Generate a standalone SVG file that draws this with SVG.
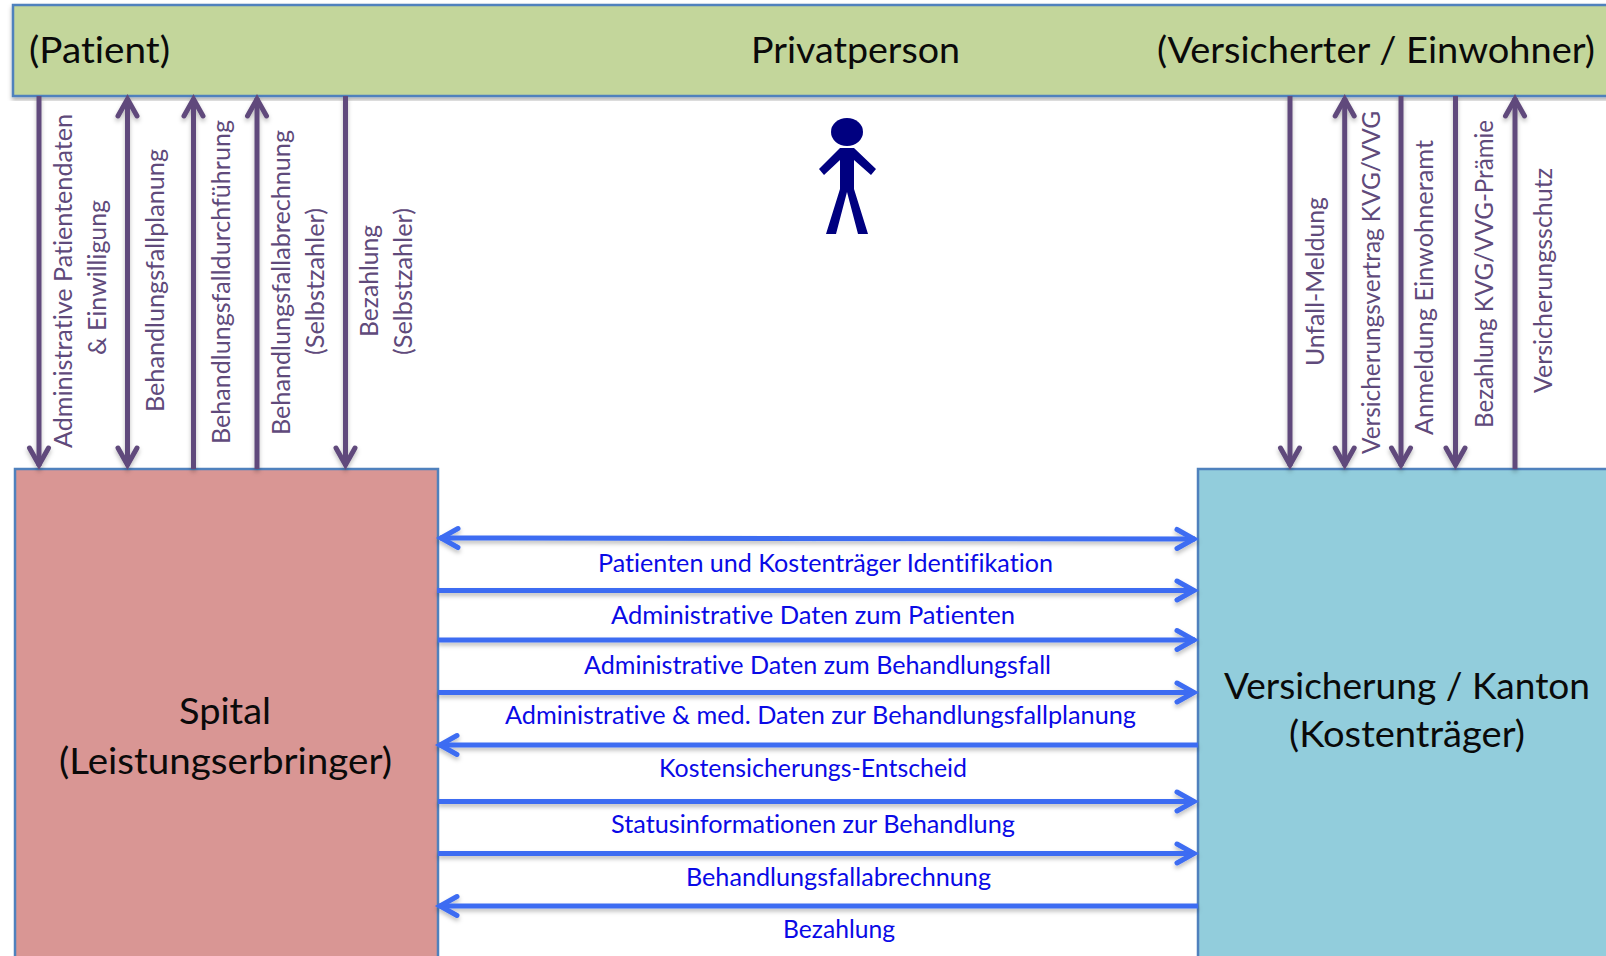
<svg xmlns="http://www.w3.org/2000/svg" width="1606" height="956" viewBox="0 0 1606 956">
<style>
text{font-family:"Lato","Carlito","Liberation Sans",sans-serif;font-variant-ligatures:none}
.big{font-size:37px;fill:#0a0a0a}
.v{font-size:25.500px;fill:#604a7b}
.h{font-size:25.500px;fill:#0a0ae6}
.box{stroke:#4f81bd;stroke-width:2.500}
.p{stroke:#604a7b;stroke-width:5;fill:none}
.b{stroke:#3d6cf2;stroke-width:5;fill:none}
.up{marker-end:url(#ap)}
.both{marker-start:url(#ap);marker-end:url(#ap)}
.bend{marker-end:url(#ab)}
.fig{fill:#000080}
</style>
<defs>
<filter id="sh" x="-5%" y="-5%" width="110%" height="110%" filterUnits="objectBoundingBox" primitiveUnits="userSpaceOnUse">
<feDropShadow dx="0" dy="3" stdDeviation="2" flood-color="#000" flood-opacity="0.3"/>
</filter>
<filter id="sl" x="0" y="-20" width="1606" height="1000" filterUnits="userSpaceOnUse">
<feDropShadow dx="0" dy="3" stdDeviation="2" flood-color="#000" flood-opacity="0.25"/>
</filter>
<marker id="ap" markerUnits="userSpaceOnUse" markerWidth="30" markerHeight="30" refX="22" refY="12" orient="auto-start-reverse" viewBox="0 0 30 24">
<path d="M4 2.500L21 12L4 21.500" fill="none" stroke="#604a7b" stroke-width="5" stroke-linecap="round" stroke-linejoin="miter"/>
</marker>
<marker id="ab" markerUnits="userSpaceOnUse" markerWidth="30" markerHeight="30" refX="22" refY="12" orient="auto-start-reverse" viewBox="0 0 30 24">
<path d="M4 2.500L21 12L4 21.500" fill="none" stroke="#3d6cf2" stroke-width="5" stroke-linecap="round" stroke-linejoin="miter"/>
</marker>
</defs>
<rect width="1606" height="956" fill="#fff"/>

<g id="privatperson">
<rect class="box" x="13" y="5" width="1600" height="91" fill="#c3d69b" filter="url(#sh)"/>
<text class="big" x="29" y="63" textLength="141" lengthAdjust="spacingAndGlyphs">(Patient)</text>
<text class="big" x="751" y="63" textLength="209" lengthAdjust="spacingAndGlyphs">Privatperson</text>
<text class="big" x="1157" y="63" textLength="438" lengthAdjust="spacingAndGlyphs">(Versicherter / Einwohner)</text>
</g>

<g id="figur">
<ellipse class="fig" cx="847" cy="132" rx="16" ry="14"/>
<path class="fig" d="M840 148H854L876 169L871 175L854 160V189L868 234H858L847 192L836 234H826L840 189V160L824 175L819 169Z"/>
</g>

<g id="spital">
<rect class="box" x="15" y="469" width="423" height="495" fill="#d99694"/>
<text class="big" x="179" y="724" textLength="92" lengthAdjust="spacingAndGlyphs">Spital</text>
<text class="big" x="59" y="774" textLength="333" lengthAdjust="spacingAndGlyphs">(Leistungserbringer)</text>
</g>

<g id="versicherung">
<rect class="box" x="1198" y="469" width="416" height="495" fill="#92cddc"/>
<text class="big" x="1224" y="699" textLength="366" lengthAdjust="spacingAndGlyphs">Versicherung / Kanton</text>
<text class="big" x="1289" y="747" textLength="236" lengthAdjust="spacingAndGlyphs">(Kostenträger)</text>
</g>

<g id="connectors" filter="url(#sl)">
<path class="p up" d="M39 96V466"/>
<path class="p both" d="M127.500 98V466"/>
<path class="p up" d="M193.500 469V98"/>
<path class="p up" d="M257 469V98"/>
<path class="p up" d="M345.500 96V466"/>
<path class="p up" d="M1290 96V466"/>
<path class="p both" d="M1344.700 98V466"/>
<path class="p up" d="M1401 96V466"/>
<path class="p up" d="M1455.500 96V466"/>
<path class="p up" d="M1515 469V98"/>
<path class="b bend" d="M1195 539L440 538" style="marker-start:url(#ab)"/>
<path class="b bend" d="M437 590.500H1195"/>
<path class="b bend" d="M438 640H1195"/>
<path class="b bend" d="M438 692.500H1195"/>
<path class="b bend" d="M1198 745H439"/>
<path class="b bend" d="M438 801.500H1195"/>
<path class="b bend" d="M438 853.500H1195"/>
<path class="b bend" d="M1198 906H439"/>
</g>

<g id="labels-links">
<text class="v" transform="translate(72 448) rotate(-90)" textLength="334" lengthAdjust="spacingAndGlyphs">Administrative Patientendaten</text>
<text class="v" transform="translate(106 355) rotate(-90)" textLength="155" lengthAdjust="spacingAndGlyphs">&amp; Einwilligung</text>
<text class="v" transform="translate(164 412) rotate(-90)" textLength="263" lengthAdjust="spacingAndGlyphs">Behandlungsfallplanung</text>
<text class="v" transform="translate(230 444) rotate(-90)" textLength="324" lengthAdjust="spacingAndGlyphs">Behandlungsfalldurchführung</text>
<text class="v" transform="translate(290 435) rotate(-90)" textLength="305" lengthAdjust="spacingAndGlyphs">Behandlungsfallabrechnung</text>
<text class="v" transform="translate(324 355) rotate(-90)" textLength="147" lengthAdjust="spacingAndGlyphs">(Selbstzahler)</text>
<text class="v" transform="translate(378 337) rotate(-90)" textLength="112" lengthAdjust="spacingAndGlyphs">Bezahlung</text>
<text class="v" transform="translate(412 355) rotate(-90)" textLength="147" lengthAdjust="spacingAndGlyphs">(Selbstzahler)</text>
</g>

<g id="labels-rechts">
<text class="v" transform="translate(1324 366) rotate(-90)" textLength="169" lengthAdjust="spacingAndGlyphs">Unfall-Meldung</text>
<text class="v" transform="translate(1380 454) rotate(-90)" textLength="343" lengthAdjust="spacingAndGlyphs">Versicherungsvertrag KVG/VVG</text>
<text class="v" transform="translate(1433 435) rotate(-90)" textLength="295" lengthAdjust="spacingAndGlyphs">Anmeldung Einwohneramt</text>
<text class="v" transform="translate(1493 428) rotate(-90)" textLength="308" lengthAdjust="spacingAndGlyphs">Bezahlung KVG/VVG-Prämie</text>
<text class="v" transform="translate(1552 393) rotate(-90)" textLength="225" lengthAdjust="spacingAndGlyphs">Versicherungsschutz</text>
</g>

<g id="labels-mitte">
<text class="h" x="598" y="572" textLength="455" lengthAdjust="spacingAndGlyphs">Patienten und Kostenträger Identifikation</text>
<text class="h" x="611" y="624" textLength="404" lengthAdjust="spacingAndGlyphs">Administrative Daten zum Patienten</text>
<text class="h" x="584" y="674" textLength="467" lengthAdjust="spacingAndGlyphs">Administrative Daten zum Behandlungsfall</text>
<text class="h" x="505" y="724" textLength="631" lengthAdjust="spacingAndGlyphs">Administrative &amp; med. Daten zur Behandlungsfallplanung</text>
<text class="h" x="659" y="777" textLength="308" lengthAdjust="spacingAndGlyphs">Kostensicherungs-Entscheid</text>
<text class="h" x="611" y="833" textLength="404" lengthAdjust="spacingAndGlyphs">Statusinformationen zur Behandlung</text>
<text class="h" x="686" y="886" textLength="305" lengthAdjust="spacingAndGlyphs">Behandlungsfallabrechnung</text>
<text class="h" x="783" y="938" textLength="112" lengthAdjust="spacingAndGlyphs">Bezahlung</text>
</g>
</svg>
